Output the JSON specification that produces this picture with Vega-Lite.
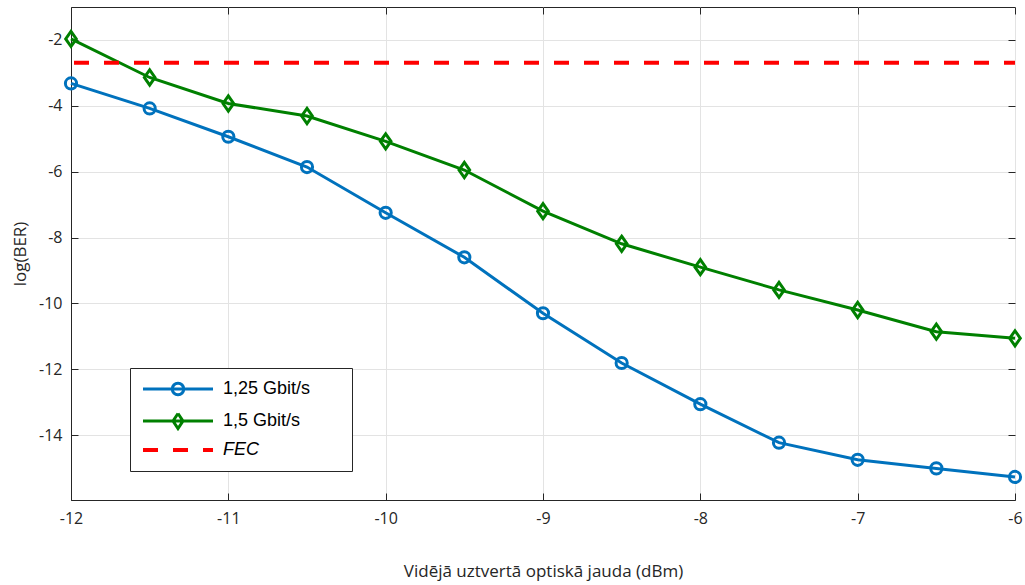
{
  "$schema": "https://vega.github.io/schema/vega-lite/v6.json",
  "width": 944,
  "height": 493,
  "autosize": "none",
  "padding": {"left": 71, "top": 7, "right": 10, "bottom": 85},
  "background": "white",
  "config": {
    "view": {"stroke": "#262626", "strokeWidth": 1},
    "axis": {
      "labelFont": "Open Sans",
      "labelFontSize": 16,
      "labelColor": "#262626",
      "labelFlush": false,
      "labelExpr": "replace(datum.label, '\u2212', '-')",
      "titleFont": "Open Sans",
      "titleFontSize": 17,
      "titleFontWeight": "normal",
      "titleColor": "#262626",
      "domainColor": "#262626",
      "tickColor": "#262626",
      "tickSize": -7,
      "gridColor": "#e3e3e3",
      "gridWidth": 1
    }
  },
  "datasets": {
    "ber": [
      {"series": "1,25 Gbit/s", "x": -12, "y": -3.32},
      {"series": "1,25 Gbit/s", "x": -11.5, "y": -4.08},
      {"series": "1,25 Gbit/s", "x": -11, "y": -4.94},
      {"series": "1,25 Gbit/s", "x": -10.5, "y": -5.86},
      {"series": "1,25 Gbit/s", "x": -10, "y": -7.25},
      {"series": "1,25 Gbit/s", "x": -9.5, "y": -8.6},
      {"series": "1,25 Gbit/s", "x": -9, "y": -10.3},
      {"series": "1,25 Gbit/s", "x": -8.5, "y": -11.81},
      {"series": "1,25 Gbit/s", "x": -8, "y": -13.06},
      {"series": "1,25 Gbit/s", "x": -7.5, "y": -14.23},
      {"series": "1,25 Gbit/s", "x": -7, "y": -14.75},
      {"series": "1,25 Gbit/s", "x": -6.5, "y": -15.01},
      {"series": "1,25 Gbit/s", "x": -6, "y": -15.27},
      {"series": "1,5 Gbit/s", "x": -12, "y": -1.97},
      {"series": "1,5 Gbit/s", "x": -11.5, "y": -3.14},
      {"series": "1,5 Gbit/s", "x": -11, "y": -3.93},
      {"series": "1,5 Gbit/s", "x": -10.5, "y": -4.31},
      {"series": "1,5 Gbit/s", "x": -10, "y": -5.08},
      {"series": "1,5 Gbit/s", "x": -9.5, "y": -5.95},
      {"series": "1,5 Gbit/s", "x": -9, "y": -7.2},
      {"series": "1,5 Gbit/s", "x": -8.5, "y": -8.19},
      {"series": "1,5 Gbit/s", "x": -8, "y": -8.9},
      {"series": "1,5 Gbit/s", "x": -7.5, "y": -9.59},
      {"series": "1,5 Gbit/s", "x": -7, "y": -10.2},
      {"series": "1,5 Gbit/s", "x": -6.5, "y": -10.86},
      {"series": "1,5 Gbit/s", "x": -6, "y": -11.06}
    ],
    "fec": [
      {"series": "FEC", "x": -12, "y": -2.69},
      {"series": "FEC", "x": -6, "y": -2.69}
    ]
  },
  "layer": [
    {
      "data": {"name": "ber"},
      "mark": {"type": "line", "strokeWidth": 3},
      "encoding": {
        "x": {
          "field": "x", "type": "quantitative",
          "scale": {"domain": [-12, -6], "nice": false, "zero": false},
          "axis": {"values": [-12, -11, -10, -9, -8, -7, -6], "title": "Vidējā uztvertā optiskā jauda (dBm)", "labelPadding": 17, "titlePadding": 37, "grid": true}
        },
        "y": {
          "field": "y", "type": "quantitative",
          "scale": {"domain": [-15.97, -1], "nice": false, "zero": false},
          "axis": {"values": [-14, -12, -10, -8, -6, -4, -2], "title": "log(BER)", "labelPadding": 16, "titlePadding": 9, "grid": true}
        },
        "color": {
          "field": "series", "type": "nominal",
          "scale": {"domain": ["1,25 Gbit/s", "1,5 Gbit/s", "FEC"], "range": ["#0072BD", "#008000", "#FF0000"]},
          "legend": {
            "title": null,
            "orient": "none",
            "legendX": 59,
            "legendY": 361,
            "direction": "vertical",
            "fillColor": "white",
            "strokeColor": "#262626",
            "padding": 12,
            "symbolSize": 100,
            "symbolStrokeWidth": 3,
            "symbolOffset": 27,
            "labelOffset": 36,
            "rowPadding": 6,
            "labelFont": "Liberation Sans",
            "labelFontSize": 18,
            "labelColor": "#000000",
            "encode": {
              "symbols": {
                "update": {
                  "shape": {"signal": "datum.value == '1,25 Gbit/s' ? 'M-7,0L7,0M-1.15,0A1.15,1.15 0 1,1 1.15,0A1.15,1.15 0 1,1 -1.15,0M30.8,0' : (datum.value == '1,5 Gbit/s' ? 'M-7,0L7,0M0,-1.5L1,0L0,1.5L-1,0ZM30.8,0' : 'M-7,0L7,0M30.8,0')"},
                  "strokeDash": {"signal": "datum.value == 'FEC' ? [15, 15] : [300, 0]"},
                  "fill": {"value": "transparent"},
                  "strokeWidth": {"signal": "datum.value == 'FEC' ? 4 : 3"},
                  "opacity": {"value": 1}
                }
              },
              "labels": {
                "update": {
                  "fontStyle": {"signal": "datum.value == 'FEC' ? 'italic' : 'normal'"}
                }
              }
            }
          }
        }
      }
    },
    {
      "data": {"name": "ber"},
      "mark": {"type": "point", "filled": false, "strokeWidth": 3, "size": 125, "opacity": 1},
      "encoding": {
        "x": {"field": "x", "type": "quantitative", "axis": null},
        "y": {"field": "y", "type": "quantitative", "axis": null},
        "color": {"field": "series", "type": "nominal", "legend": null},
        "shape": {
          "field": "series", "type": "nominal",
          "scale": {"domain": ["1,25 Gbit/s", "1,5 Gbit/s"], "range": ["circle", "M0,-1.35L0.95,0L0,1.35L-0.95,0Z"]},
          "legend": null
        }
      }
    },
    {
      "data": {"name": "fec"},
      "mark": {"type": "line", "strokeWidth": 4, "strokeDash": [15, 15], "strokeDashOffset": -3},
      "encoding": {
        "x": {"field": "x", "type": "quantitative", "axis": null},
        "y": {"field": "y", "type": "quantitative", "axis": null},
        "color": {"field": "series", "type": "nominal"}
      }
    },
    {
      "data": {"name": "fec"},
      "mark": {"type": "point", "opacity": 0},
      "encoding": {
        "x": {
          "field": "x", "type": "quantitative",
          "axis": {"orient": "top", "values": [-12, -11, -10, -9, -8, -7, -6], "labels": false, "grid": false, "domain": false, "title": null}
        },
        "y": {
          "field": "y", "type": "quantitative",
          "axis": {"orient": "right", "values": [-14, -12, -10, -8, -6, -4, -2], "labels": false, "grid": false, "domain": false, "title": null}
        }
      }
    }
  ],
  "resolve": {"axis": {"x": "independent", "y": "independent"}}
}
